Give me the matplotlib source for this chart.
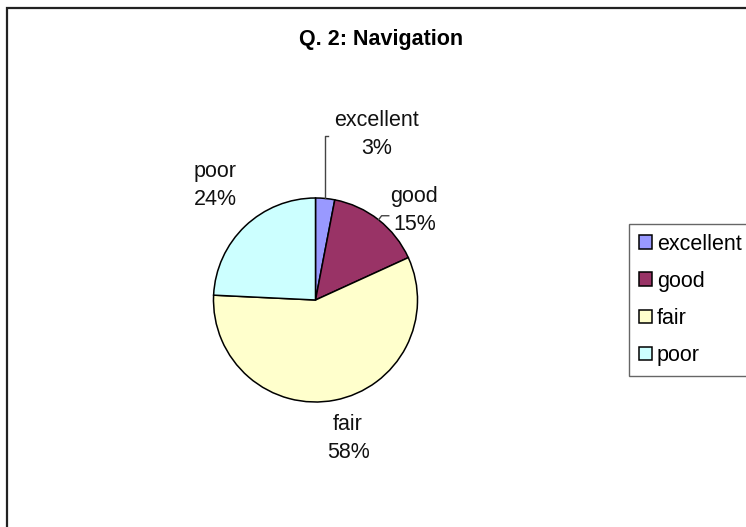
import numpy as np
import matplotlib.pyplot as plt
from matplotlib.patches import Rectangle

plt.rcParams['font.family'] = ['Liberation Sans', 'DejaVu Sans']

categories = ["excellent", "good", "fair", "poor"]
counts = [1, 5, 19, 8]
colors = ["#9999FF", "#993366", "#FFFFCC", "#CCFFFF"]

W, H = 746, 527
fig = plt.figure(figsize=(W / 100, H / 100), dpi=100)

# outer chart border (right and bottom run off the image)
fig.patches.append(Rectangle((7 / W, -0.2), 1.2, 1.2 - 8 / H, transform=fig.transFigure,
                             fill=False, edgecolor="#222222", linewidth=1.6))

cx, cy, r = 315.5, 300, 102
ax = fig.add_axes([(cx - r) / W, (H - cy - r) / H, 2 * r / W, 2 * r / H])
wedges, _ = ax.pie(counts, colors=colors, startangle=90, counterclock=False,
                   wedgeprops=dict(edgecolor="black", linewidth=1.1))
ax.set_xlim(-1, 1)
ax.set_ylim(-1, 1)
ax.axis("off")

total = sum(counts)
pcts = [round(100 * c / total) for c in counts]

# label centres relative to the pie centre (in radius units)
label_pos = {"excellent": (0.60, 1.62), "good": (0.97, 0.88),
             "fair": (0.32, -1.36), "poor": (-0.98, 1.12)}
for name, p in zip(categories, pcts):
    lx, ly = label_pos[name]
    ax.text(lx, ly, f"{name}\n{p}%", ha="center", va="center", fontsize=15.5,
            linespacing=1.42, color="#111111", clip_on=False)

# leader lines for the small slices
ang = np.deg2rad((wedges[0].theta1 + wedges[0].theta2) / 2)
ex, ey = np.cos(ang), np.sin(ang)
ax.plot([ex, ex, ex + 0.03], [ey, 1.61, 1.61], color="#444444", lw=1, clip_on=False)
ang = np.deg2rad((wedges[1].theta1 + wedges[1].theta2) / 2)
gx, gy = np.cos(ang), np.sin(ang)
ax.plot([gx, gx + 0.03, gx + 0.1], [gy, gy + 0.04, gy + 0.04], color="#444444", lw=1, clip_on=False)

fig.text(381 / W, 1 - 39 / H, "Q. 2: Navigation", ha="center", va="center",
         fontsize=15.5, fontweight="bold")

leg = fig.legend(wedges, categories, loc="upper left", bbox_to_anchor=(629 / W, 1 - 224 / H),
                 borderaxespad=0, fontsize=15.5, frameon=True, fancybox=False,
                 handlelength=0.6, handleheight=0.6, handletextpad=0.25,
                 labelspacing=0.75, borderpad=0.45)
leg.get_frame().set_edgecolor("#404040")
leg.get_frame().set_linewidth(1.0)

fig.savefig("out.png", dpi=100)
